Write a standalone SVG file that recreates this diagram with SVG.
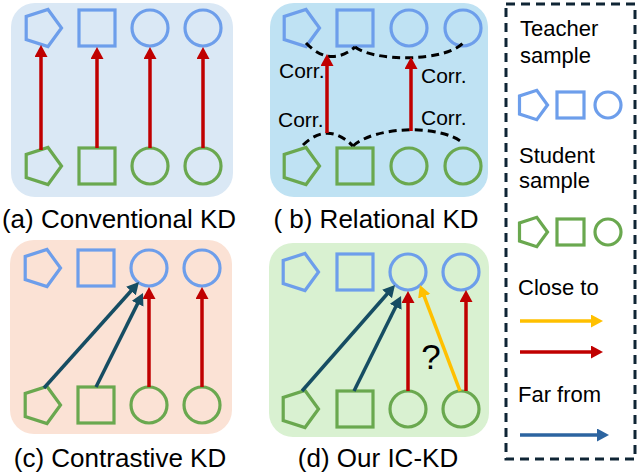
<svg xmlns="http://www.w3.org/2000/svg" xmlns:xlink="http://www.w3.org/1999/xlink" width="638" height="474" viewBox="0 0 638 474">
<style>
.t{stroke:#6d9eeb;fill:none;stroke-width:3.2}
.s{stroke:#6aa84f;fill:none;stroke-width:3.2}
.lbl{font-family:"Liberation Sans",Arial,sans-serif;font-size:26px;fill:#000}
.txt{font-family:"Liberation Sans",Arial,sans-serif;font-size:21px;fill:#000}
.leg{font-family:"Liberation Sans",Arial,sans-serif;font-size:22px;fill:#000}
.red{stroke:#c00000;stroke-width:3.5;fill:none;marker-end:url(#mr)}
.teal{stroke:#164d63;stroke-width:3.5;fill:none;marker-end:url(#mt)}
.yel{stroke:#ffc000;stroke-width:3.5;fill:none;marker-end:url(#my)}
.blue{stroke:#2c64a0;stroke-width:3.5;fill:none;marker-end:url(#mb)}
.dash{stroke:#000;stroke-width:3;fill:none;stroke-dasharray:8 5}
</style>
<defs>
<polygon id="pent" points="19.5,0 6,18.5 -15.8,11.5 -15.8,-11.5 6,-18.5"/>
<polygon id="pentS" points="15.5,0 4.8,14.7 -12.5,9.1 -12.5,-9.1 4.8,-14.7"/>
<marker id="mr" markerUnits="userSpaceOnUse" markerWidth="14" markerHeight="14" refX="2" refY="6.5" orient="auto"><path d="M0,0 L12,6.5 L0,13 z" fill="#c00000"/></marker>
<marker id="mt" markerUnits="userSpaceOnUse" markerWidth="14" markerHeight="14" refX="2" refY="6.5" orient="auto"><path d="M0,0 L12,6.5 L0,13 z" fill="#164d63"/></marker>
<marker id="my" markerUnits="userSpaceOnUse" markerWidth="14" markerHeight="14" refX="2" refY="6.5" orient="auto"><path d="M0,0 L12,6.5 L0,13 z" fill="#ffc000"/></marker>
<marker id="mb" markerUnits="userSpaceOnUse" markerWidth="14" markerHeight="14" refX="2" refY="6.5" orient="auto"><path d="M0,0 L12,6.5 L0,13 z" fill="#2c64a0"/></marker>
</defs>
<rect width="638" height="474" fill="#fff"/>

<!-- panel backgrounds -->
<g id="panel-a-bg"><rect x="11" y="3" width="222" height="194" rx="24" fill="#dae8f5"/></g>
<g id="panel-b-bg"><rect x="270" y="3" width="218" height="194" rx="24" fill="#bfe2f3"/></g>
<g id="panel-c-bg"><rect x="10" y="240" width="222" height="194" rx="24" fill="#fbe2d5"/></g>
<g id="panel-d-bg"><rect x="269" y="243" width="220" height="194" rx="24" fill="#d9f1d1"/></g>

<!-- panel a nodes -->
<g id="a-t1"><use xlink:href="#pent" href="#pent" x="42" y="28" class="t"/></g>
<g id="a-t2"><rect x="79" y="10" width="36" height="36" class="t"/></g>
<g id="a-t3"><circle cx="150" cy="28" r="18" class="t"/></g>
<g id="a-t4"><circle cx="203" cy="28" r="18" class="t"/></g>
<g id="a-s1"><use xlink:href="#pent" href="#pent" x="42" y="166" class="s"/></g>
<g id="a-s2"><rect x="79" y="148" width="36" height="36" class="s"/></g>
<g id="a-s3"><circle cx="150" cy="166" r="18" class="s"/></g>
<g id="a-s4"><circle cx="203" cy="166" r="18" class="s"/></g>

<!-- panel b nodes -->
<g id="b-t1"><use xlink:href="#pent" href="#pent" x="300" y="28" class="t"/></g>
<g id="b-t2"><rect x="337" y="10" width="36" height="36" class="t"/></g>
<g id="b-t3"><circle cx="409" cy="28" r="18" class="t"/></g>
<g id="b-t4"><circle cx="463" cy="28" r="18" class="t"/></g>
<g id="b-s1"><use xlink:href="#pent" href="#pent" x="300" y="166" class="s"/></g>
<g id="b-s2"><rect x="337" y="148" width="36" height="36" class="s"/></g>
<g id="b-s3"><circle cx="409" cy="166" r="18" class="s"/></g>
<g id="b-s4"><circle cx="463" cy="166" r="18" class="s"/></g>

<!-- panel c nodes -->
<g id="c-t1"><use xlink:href="#pent" href="#pent" x="41" y="268" class="t"/></g>
<g id="c-t2"><rect x="78" y="250" width="36" height="36" class="t"/></g>
<g id="c-t3"><circle cx="149" cy="268" r="18" class="t"/></g>
<g id="c-t4"><circle cx="202" cy="268" r="18" class="t"/></g>
<g id="c-s1"><use xlink:href="#pent" href="#pent" x="41" y="405" class="s"/></g>
<g id="c-s2"><rect x="78" y="387" width="36" height="36" class="s"/></g>
<g id="c-s3"><circle cx="149" cy="405" r="18" class="s"/></g>
<g id="c-s4"><circle cx="202" cy="405" r="18" class="s"/></g>

<!-- panel d nodes -->
<g id="d-t1"><use xlink:href="#pent" href="#pent" x="299" y="272" class="t"/></g>
<g id="d-t2"><rect x="337" y="254" width="36" height="36" class="t"/></g>
<g id="d-t3"><circle cx="408" cy="272" r="18" class="t"/></g>
<g id="d-t4"><circle cx="461" cy="272" r="18" class="t"/></g>
<g id="d-s1"><use xlink:href="#pent" href="#pent" x="299" y="409" class="s"/></g>
<g id="d-s2"><rect x="337" y="391" width="36" height="36" class="s"/></g>
<g id="d-s3"><circle cx="408" cy="409" r="18" class="s"/></g>
<g id="d-s4"><circle cx="461" cy="409" r="18" class="s"/></g>

<!-- connectors -->
<g id="connectors">
<line x1="41" y1="150" x2="41" y2="55" class="red"/>
<line x1="97" y1="148" x2="97" y2="57" class="red"/>
<line x1="150" y1="148" x2="150" y2="57" class="red"/>
<line x1="203" y1="148" x2="203" y2="57" class="red"/>

<path d="M306,43 Q330,68 355,47" class="dash"/>
<path d="M355,47 C375,62 445,62 463,43" class="dash"/>
<path d="M303,145 Q328,121 353,146" class="dash"/>
<path d="M353,146 C375,126 440,124 463,143" class="dash"/>
<line x1="327" y1="133" x2="327" y2="64" class="red"/>
<line x1="411" y1="131" x2="411" y2="67" class="red"/>

<line x1="44" y1="388" x2="132.3" y2="289.5" class="teal"/>
<line x1="96" y1="387" x2="138.5" y2="301.9" class="teal"/>
<line x1="149" y1="387" x2="149" y2="297" class="red"/>
<line x1="202" y1="387" x2="202" y2="297" class="red"/>

<line x1="302" y1="391" x2="388.4" y2="292.5" class="teal"/>
<line x1="354" y1="391" x2="396.6" y2="305" class="teal"/>
<line x1="408" y1="391" x2="408" y2="301" class="red"/>
<line x1="466" y1="391" x2="466" y2="300" class="red"/>
<line x1="460" y1="391" x2="423.5" y2="294.4" class="yel"/>
</g>

<!-- texts in panels -->
<g id="b-labels">
<text x="279" y="78" class="txt">Corr.</text>
<text x="421" y="83" class="txt">Corr.</text>
<text x="278" y="127" class="txt">Corr.</text>
<text x="421" y="125" class="txt">Corr.</text>
</g>
<g id="d-q"><text x="431" y="369" class="txt" style="font-size:35px" text-anchor="middle">?</text></g>

<g id="captions">
<text x="119" y="228" class="lbl" text-anchor="middle">(a) Conventional KD</text>
<text x="376" y="228" class="lbl" text-anchor="middle">( b) Relational KD</text>
<text x="120" y="467" class="lbl" text-anchor="middle">(c) Contrastive KD</text>
<text x="378" y="467" class="lbl" text-anchor="middle">(d) Our IC-KD</text>
</g>

<!-- legend -->
<g id="legend">
<rect x="506" y="4" width="129" height="455" fill="none" stroke="#0f2535" stroke-width="3" stroke-dasharray="9 6"/>
<text x="520" y="36" class="leg">Teacher</text>
<text x="520" y="63" class="leg">sample</text>
<use xlink:href="#pentS" href="#pentS" x="532" y="105" class="t"/>
<rect x="557" y="92" width="27" height="26" class="t"/>
<circle cx="608" cy="105" r="13" class="t"/>
<text x="519" y="163" class="leg">Student</text>
<text x="519" y="188" class="leg">sample</text>
<use xlink:href="#pentS" href="#pentS" x="532" y="232" class="s"/>
<rect x="557" y="219" width="27" height="26" class="s"/>
<circle cx="608" cy="232" r="13" class="s"/>
<text x="518" y="295" class="leg">Close to</text>
<line x1="520" y1="321" x2="593" y2="321" class="yel"/>
<line x1="520" y1="352" x2="593" y2="352" class="red"/>
<text x="518" y="402" class="leg">Far from</text>
<line x1="520" y1="435" x2="599" y2="435" class="blue"/>
</g>
</svg>
